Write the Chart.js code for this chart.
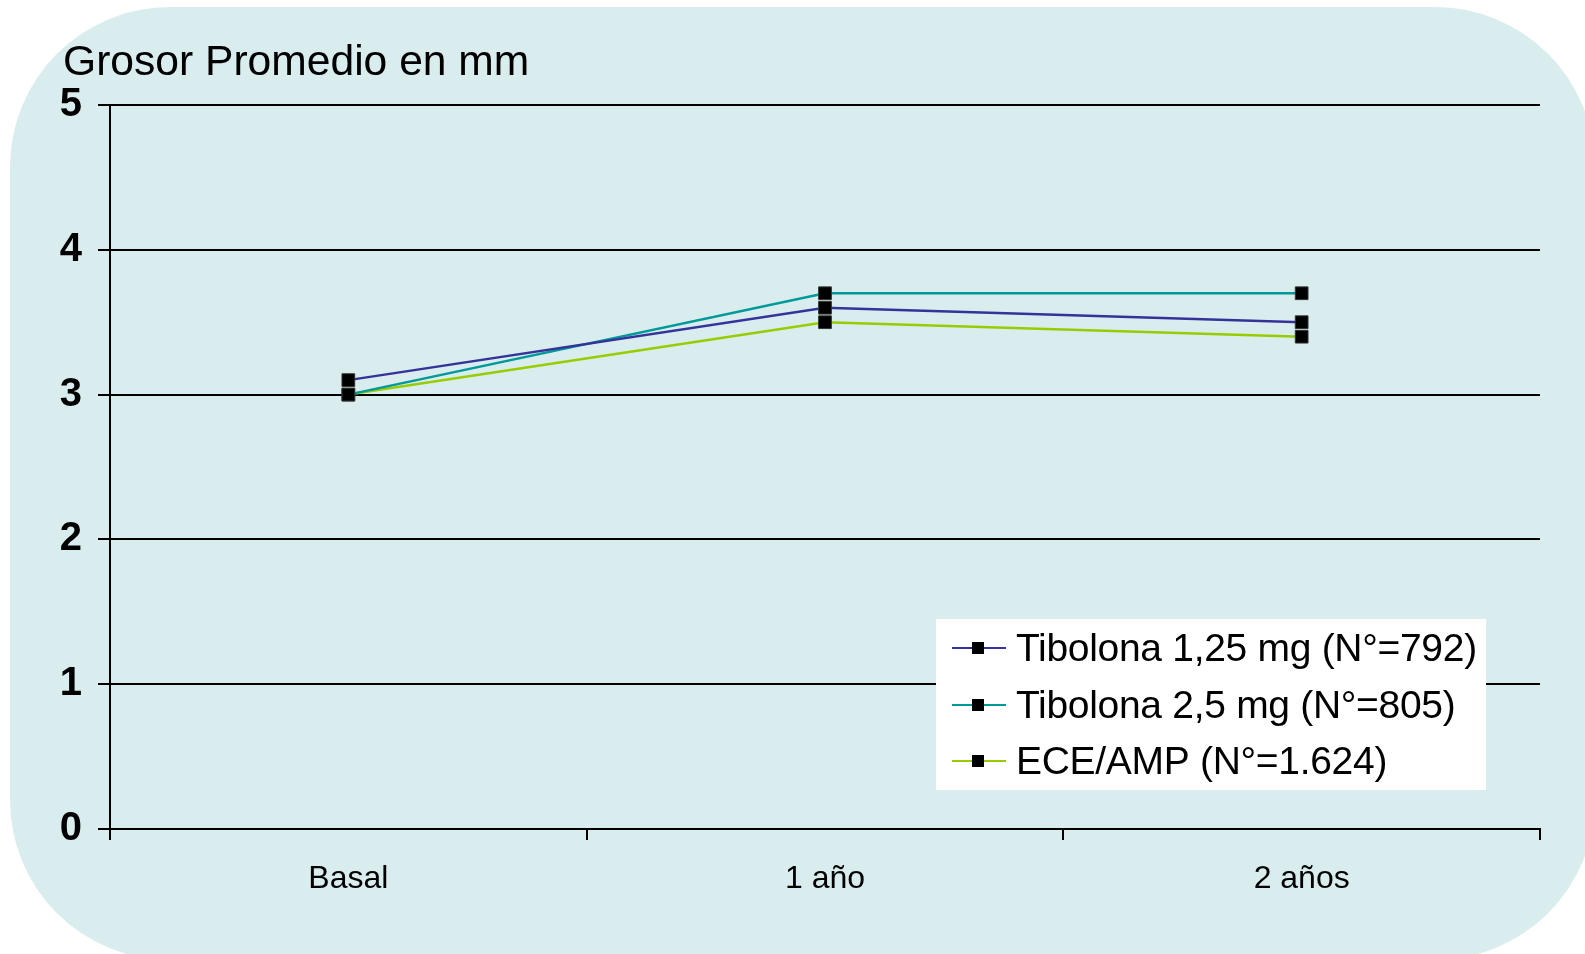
<!DOCTYPE html>
<html>
<head>
<meta charset="utf-8">
<title>Grosor Promedio en mm</title>
<style>
  html, body { margin: 0; padding: 0; background: #ffffff; }
  #wrap { width: 1585px; height: 954px; position: relative; }
  canvas { display: block; }
</style>
<script src="https://cdn.jsdelivr.net/npm/chart.js@4.4.1/dist/chart.umd.min.js"></script>
</head>
<body>
<div id="wrap"><canvas id="chart" width="1585" height="954"></canvas></div>
<script>
// Endometrial thickness (mm) at baseline, 1 year and 2 years
const categories = ['Basal', '1 año', '2 años'];
const seriesNames = ['Tibolona 1,25 mg (N°=792)', 'Tibolona 2,5 mg (N°=805)', 'ECE/AMP (N°=1.624)'];
const tibolona125 = [3.1, 3.6, 3.5];
const tibolona25 = [3.0, 3.7, 3.7];
const eceAmp = [3.0, 3.5, 3.4];
const yTickValues = [0, 1, 2, 3, 4, 5];
const seriesColors = ['#333399', '#009999', '#99CC00'];

const FONT = '"Liberation Sans", Arial, sans-serif';

// Rounded pale panel behind everything, plus the axis caption
const panelPlugin = {
  id: 'panel',
  beforeDraw(chart) {
    const ctx = chart.ctx;
    ctx.save();
    ctx.fillStyle = '#DAEDEE';
    ctx.beginPath();
    ctx.roundRect(10, 7, 1585, 953, 160);
    ctx.fill();
    ctx.fillStyle = '#000';
    ctx.font = '42.6px ' + FONT;
    ctx.textBaseline = 'alphabetic';
    ctx.textAlign = 'left';
    ctx.fillText('Grosor Promedio en mm', 63, 75);
    ctx.restore();
  }
};

// Boxed legend inside the plot area
const legendBoxPlugin = {
  id: 'legendBox',
  afterDatasetsDraw(chart) {
    const ctx = chart.ctx;
    ctx.save();
    ctx.fillStyle = '#ffffff';
    ctx.fillRect(936, 619, 550, 171);
    const rows = [648, 705, 761];
    chart.data.datasets.forEach((ds, i) => {
      const y = rows[i];
      ctx.strokeStyle = ds.borderColor;
      ctx.lineWidth = 2;
      ctx.beginPath();
      ctx.moveTo(952, y);
      ctx.lineTo(1006, y);
      ctx.stroke();
      ctx.fillStyle = '#000';
      ctx.fillRect(972, y - 6, 12, 12);
      ctx.font = '39px ' + FONT;
      ctx.letterSpacing = '-0.3px';
      ctx.textBaseline = 'middle';
      ctx.textAlign = 'left';
      ctx.fillText(ds.label, 1016, y + 2);
    });
    ctx.restore();
  }
};

const makeSeries = (label, data, color) => ({
  label,
  data,
  borderColor: color,
  backgroundColor: color,
  borderWidth: 2.5,
  pointStyle: 'rect',
  pointRadius: 9,
  pointHoverRadius: 9,
  pointBackgroundColor: '#000',
  pointBorderColor: '#333',
  pointBorderWidth: 1,
  tension: 0,
  fill: false
});

new Chart(document.getElementById('chart'), {
  type: 'line',
  data: {
    labels: categories,
    datasets: [
      makeSeries(seriesNames[0], tibolona125, seriesColors[0]),
      makeSeries(seriesNames[1], tibolona25, seriesColors[1]),
      makeSeries(seriesNames[2], eceAmp, seriesColors[2])
    ]
  },
  plugins: [panelPlugin, legendBoxPlugin],
  options: {
    responsive: false,
    animation: false,
    devicePixelRatio: 1,
    layout: { padding: { top: 105, right: 45, left: 0, bottom: 0 } },
    plugins: {
      legend: { display: false },
      title: { display: false },
      tooltip: { enabled: false }
    },
    scales: {
      x: {
        type: 'category',
        offset: true,
        afterFit(scale) { scale.height = 125; },
        grid: {
          drawOnChartArea: false,
          offset: true,
          drawTicks: true,
          tickLength: 11,
          color: '#000',
          lineWidth: 2
        },
        border: { display: true, color: '#000', width: 2 },
        ticks: {
          color: '#000',
          font: { family: FONT, size: 32 },
          padding: 20,
          maxRotation: 0
        }
      },
      y: {
        min: 0,
        max: 5,
        afterFit(scale) { scale.width = 110; },
        afterBuildTicks(scale) { scale.ticks = yTickValues.map(v => ({ value: v })); },
        grid: {
          color: '#000',
          lineWidth: 2,
          tickLength: 12
        },
        border: { display: true, color: '#000', width: 2 },
        ticks: {
          color: '#000',
          font: { family: FONT, size: 40, weight: 'bold' },
          padding: 16
        }
      }
    }
  }
});
</script>
</body>
</html>
